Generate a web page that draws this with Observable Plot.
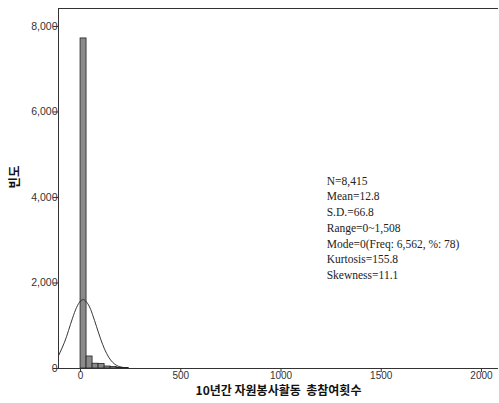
<!DOCTYPE html>
<html>
<head>
<meta charset="utf-8">
<script src="https://cdn.jsdelivr.net/npm/d3@7"></script>
<script src="https://cdn.jsdelivr.net/npm/@observablehq/plot@0.6"></script>
<style>
  html, body { margin: 0; padding: 0; background: #fff; }
  #chart { width: 499px; height: 403px; }
</style>
</head>
<body>
<div id="chart"></div>
<script>
// Histogram bins (lower edge, width 30) and frequencies
const binStart = [0, 30, 60, 90, 120, 150, 180, 210];
const binCount = [7720, 281, 112, 108, 47, 35, 20, 12];
const binWidth = 30;

// Fitted normal curve
const curveX = [-110, -80, -60, -40, -20, 0, 13, 20, 40, 60, 80, 100, 120, 140, 160, 180, 200, 220, 240];
const curveY = [298, 615, 889, 1177, 1426, 1580, 1610, 1601, 1485, 1259, 976, 693, 450, 267, 145, 72, 33, 14, 5];

// Axes
const xTicks = [0, 500, 1000, 1500, 2000];
const yTicks = [0, 2000, 4000, 6000, 8000];
const xDomain = [-110, 2085];
const yDomain = [0, 8420];
const xLabel = "10년간 자원봉사활동  총참여횟수";
const yLabel = "빈도";

// Summary statistics box
const statLines = [
  "N=8,415",
  "Mean=12.8",
  "S.D.=66.8",
  "Range=0~1,508",
  "Mode=0(Freq: 6,562, %: 78)",
  "Kurtosis=155.8",
  "Skewness=11.1"
];
const statAnchor = {x: 1228, y: 4560};

const bins = binStart.map((s, i) => ({x1: s, x2: s + binWidth, y: binCount[i]}));
const curve = curveX.map((x, i) => ({x, y: curveY[i]}));

const chart = Plot.plot({
  width: 499,
  height: 403,
  marginLeft: 58,
  marginTop: 8,
  marginRight: 1,
  marginBottom: 35,
  style: {fontFamily: "'Liberation Sans', Arial, sans-serif", fontSize: "10.5px", color: "#333", background: "#fff"},
  x: {domain: xDomain},
  y: {domain: yDomain},
  marks: [
    Plot.rectY(bins, {x1: "x1", x2: "x2", y: "y", fill: "#8a8a8a", stroke: "#222", strokeWidth: 0.8}),
    Plot.line(curve, {x: "x", y: "y", stroke: "#222", strokeWidth: 0.9, curve: "natural"}),
    Plot.ruleX([xDomain[0]], {stroke: "#333", strokeWidth: 1}),
    Plot.ruleY([yDomain[0], yDomain[1]], {stroke: "#333", strokeWidth: 1}),
    Plot.axisX({ticks: xTicks, tickSize: 4, tickPadding: -1, fontSize: 10, tickFormat: d => String(d), label: null, stroke: "#333"}),
    Plot.axisY({ticks: yTicks, tickSize: 5, tickPadding: -4, tickFormat: d3.format(","), label: null, stroke: "#333"}),
    Plot.text([xLabel], {frameAnchor: "bottom", dy: 26, fontSize: 12, fontWeight: "bold", fill: "#111",
      fontFamily: "'Noto Sans CJK KR', sans-serif"}),
    Plot.text([yLabel], {frameAnchor: "left", dx: -44, rotate: -90, fontSize: 12.5, fontWeight: "bold", fill: "#111",
      fontFamily: "'Noto Sans CJK KR', sans-serif"}),
    Plot.text([statLines.join("\n")], {x: () => statAnchor.x, y: () => statAnchor.y, textAnchor: "start", lineAnchor: "top",
      lineHeight: 1.37, fontSize: 11.5, fill: "#222", fontFamily: "'Liberation Serif', 'Times New Roman', serif"})
  ]
});
document.getElementById("chart").appendChild(chart);
</script>
</body>
</html>
